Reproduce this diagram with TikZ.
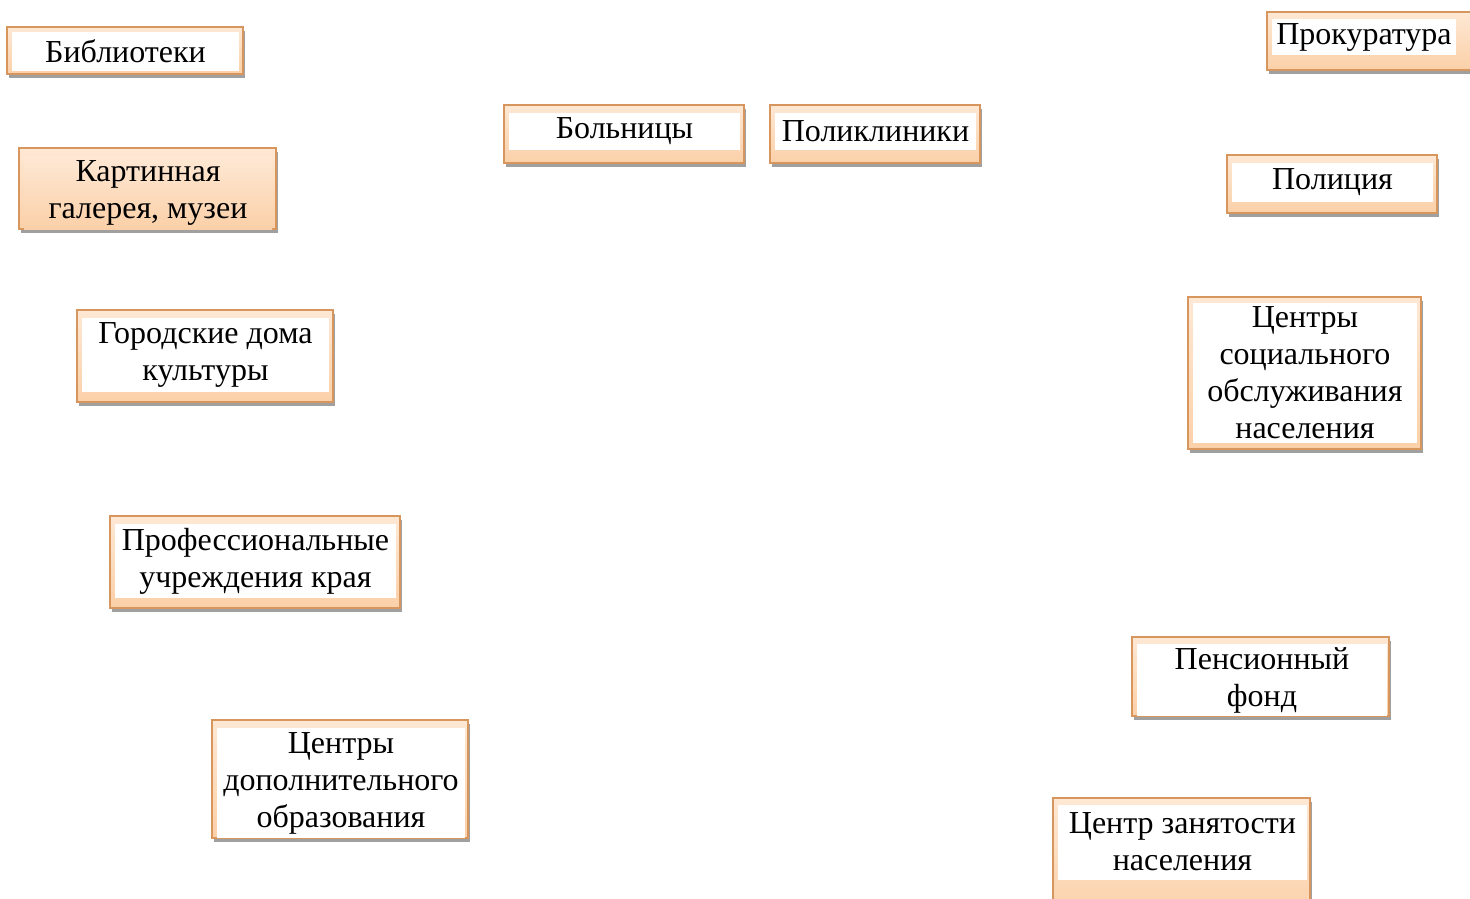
\documentclass[tikz,border=0pt]{standalone}
\usepackage{fontspec}
\setmainfont{Liberation Serif}
\usetikzlibrary{backgrounds,shadows}

\definecolor{orgline}{RGB}{214,150,94}
\definecolor{peach}{RGB}{251,208,168}
\definecolor{peachlight}{RGB}{254,232,212}
\definecolor{shadowgray}{RGB}{160,160,160}

\tikzset{
  txtbox/.style={fill=white, inner sep=0pt, align=center,
    font=\fontsize{32}{37}\selectfont},
  galbox/.style={txtbox, top color=peachlight, bottom color=peach},
  frame/.style={draw=orgline, line width=1.6pt, top color=peachlight,
    bottom color=peach,
    drop shadow={shadow xshift=2pt, shadow yshift=-4pt, fill=shadowgray, opacity=1}}
}

\begin{document}
\begin{tikzpicture}[x=1pt,y=-1pt]
\useasboundingbox (0,0) rectangle (1470,899);
% culture, left side
\node[txtbox, minimum width=227, minimum height=39] (bibl) at (125.5,51.5) {Библиотеки};
\node[galbox, minimum width=248, minimum height=73] (gal) at (148,192.5) {Картинная\\галерея, музеи};
\node[txtbox, minimum width=247, minimum height=74] (gdk) at (205.5,355) {Городские дома\\культуры};
\node[txtbox, minimum width=281, minimum height=74] (prof) at (255.5,561) {Профессиональные\\учреждения края};
\node[txtbox, minimum width=248, minimum height=110] (dop) at (341,783) {Центры\\дополнительного\\образования};
% health, top
\node[txtbox, minimum width=231, minimum height=37] (boln) at (624.5,131) {Больницы};
\node[txtbox, minimum width=201, minimum height=37] (polikl) at (875.5,131) {Поликлиники};
% state and social, right side
\node[txtbox, minimum width=184, minimum height=36] (prok) at (1364,37.5) {Прокуратура};
\node[txtbox, minimum width=201, minimum height=39] (pol) at (1332.5,182.5) {Полиция};
\node[txtbox, minimum width=224, minimum height=140] (soc) at (1305,373) {Центры\\социального\\обслуживания\\населения};
\node[txtbox, minimum width=250, minimum height=72] (pens) at (1262,680) {Пенсионный\\фонд};
\node[txtbox, minimum width=249, minimum height=75] (zan) at (1182.5,842) {Центр занятости\\населения};

% frames behind the text
\begin{scope}[on background layer]
\foreach \n/\t/\r/\b in {bibl/5/4/3, gal/8/4/0, gdk/8/4/10, prof/8/4/10, dop/8/3/0,
    boln/7.5/4/13.5, polikl/7.5/4/13.5, prok/7.5/22/14.5, pol/8/4/11, soc/6/4/6,
    pens/7/2/0, zan/6.5/3/40}
  \draw[frame] ([shift={(-5,-\t)}]\n.north west) rectangle ([shift={(\r,\b)}]\n.south east);
\end{scope}
\end{tikzpicture}
\end{document}
